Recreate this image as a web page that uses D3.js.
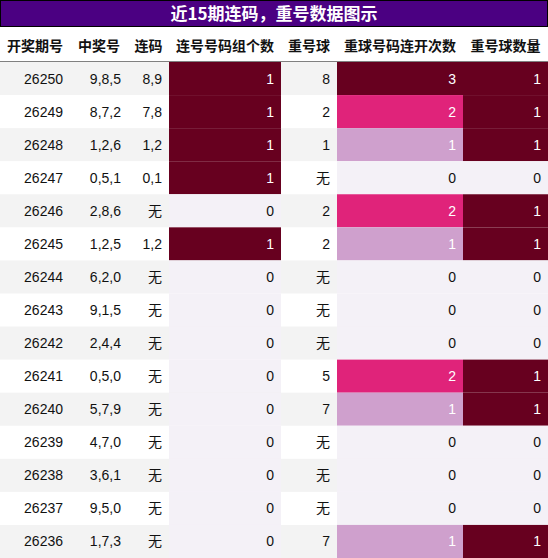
<!DOCTYPE html><html><head><meta charset="utf-8"><script src="https://cdn.jsdelivr.net/npm/d3@7"></script>
<style>body{margin:0;background:#fff}</style></head><body><svg id="c" width="548" height="558"></svg><script>
const title="近15期连码，重号数据图示";
const headers=["开奖期号","中奖号","连码","连号号码组个数","重号球","重球号码连开次数","重号球数量"];
const periods=["26250","26249","26248","26247","26246","26245","26244","26243","26242","26241","26240","26239","26238","26237","26236"];
const numbers=["9,8,5","8,7,2","1,2,6","0,5,1","2,8,6","1,2,5","6,2,0","9,1,5","2,4,4","0,5,0","5,7,9","4,7,0","3,6,1","9,5,0","1,7,3"];
const lianma=["8,9","7,8","1,2","0,1","无","1,2","无","无","无","无","无","无","无","无","无"];
const lianCount=[1,1,1,1,0,1,0,0,0,0,0,0,0,0,0];
const chongBall=["8","2","1","无","2","2","无","无","无","5","7","无","无","无","7"];
const chongTimes=[3,2,1,0,2,1,0,0,0,2,1,0,0,0,1];
const chongCount=[1,1,1,0,1,1,0,0,0,1,1,0,0,0,1];

const svg=d3.select("#c");
const W=548;
const colEdges=[0,70,128,169,281,337,463,548];
const y=d3.scaleBand().domain(d3.range(periods.length)).range([62,558]);
const color=d3.scaleLinear().domain([0,1/3,2/3,1]).range(["#f4f1f7","#cfa0cd","#e0237a","#67001f"]);
svg.append("rect").attr("x",0.5).attr("y",0.5).attr("width",W-1).attr("height",26).attr("fill","#4b0082").attr("stroke","#000");
svg.append("text").attr("x",W/2).attr("y",20).attr("text-anchor","middle").attr("fill","#fff").attr("font-weight","bold").attr("font-size",17).attr("font-family","'Noto Sans CJK SC',sans-serif").text(title);
headers.forEach((h,i)=>svg.append("text").attr("x",(colEdges[i]+colEdges[i+1])/2).attr("y",51).attr("text-anchor","middle").attr("font-weight","bold").attr("font-size",14).attr("font-family","'Noto Sans CJK SC',sans-serif").attr("fill","#111").text(h));
svg.append("line").attr("x1",0).attr("x2",W).attr("y1",62).attr("y2",62).attr("stroke","#000");
const cols=[periods,numbers,lianma,lianCount,chongBall,chongTimes,chongCount];
const maxes={3:d3.max(lianCount),5:d3.max(chongTimes),6:d3.max(chongCount)};
periods.forEach((p,r)=>{
  svg.append("rect").attr("x",0).attr("y",y(r)).attr("width",W).attr("height",y.bandwidth()+0.5).attr("fill",r%2===0?"#f3f3f3":"#fff");
  cols.forEach((col,c)=>{
    const v=col[r];let fill=null;
    if(c in maxes){fill=color(v/maxes[c]);
      svg.append("rect").attr("x",colEdges[c]).attr("y",y(r)).attr("width",colEdges[c+1]-colEdges[c]).attr("height",y.bandwidth()+0.5).attr("fill",fill);}
    svg.append("text").attr("x",colEdges[c+1]-7).attr("y",y(r)+y.bandwidth()/2+5).attr("text-anchor","end").attr("font-size",14)
      .attr("font-family","'Liberation Sans','Noto Sans CJK SC',sans-serif").attr("fill",(c in maxes&&v>0)?"#fff":"#111").text(v);
  });
});
</script></body></html>
